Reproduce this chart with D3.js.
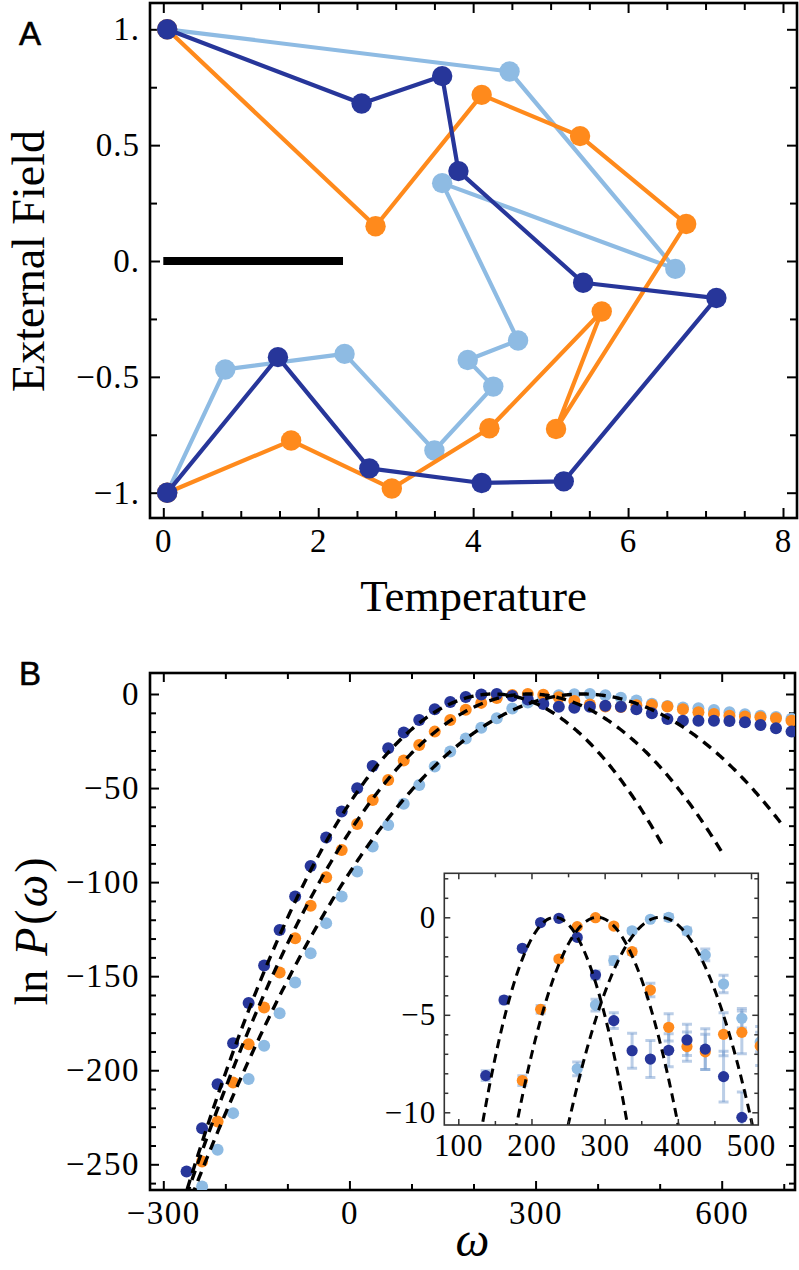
<!DOCTYPE html>
<html><head><meta charset="utf-8">
<script src="https://cdn.jsdelivr.net/npm/d3@7"></script>
<style>body{margin:0;background:#fff} svg{display:block}</style>
</head><body><svg id="c" width="799" height="1270"></svg>
<script>
// ---------- Panel A data (Temperature, External Field) ----------
const tempNavy   = [0.05, 1.48, 2.66, 4.11, 5.17, 7.14, 5.42, 3.81, 3.60, 2.56, 0.05];
const fieldNavy  = [-1.0, -0.415, -0.895, -0.958, -0.951, -0.16, -0.094, 0.388, 0.798, 0.68, 1.0];
const tempOrange = [0.05, 2.74, 4.11, 5.38, 6.75, 5.07, 5.66, 4.21, 2.95, 1.65, 0.05];
const fieldOrange= [1.0, 0.15, 0.717, 0.539, 0.16, -0.725, -0.218, -0.722, -0.982, -0.775, -1.0];
const tempLight  = [0.05, 4.47, 6.61, 3.60, 4.58, 3.93, 4.26, 3.50, 2.34, 0.80, 0.05];
const fieldLight = [1.0, 0.818, -0.034, 0.336, -0.343, -0.427, -0.542, -0.818, -0.401, -0.468, -1.0];
const barTemp = [0, 2.32];
const barField = [0, 0];
const xTicksA = [0, 2, 4, 6, 8];
const yTicksA = [-1, -0.5, 0, 0.5, 1];
const yTickLabelsA = ["\u22121.", "\u22120.5", "0.", "0.5", "1."];

// ---------- Panel B data (omega, ln P) ----------
const omega = [-262.5,-237.5,-212.5,-187.5,-162.5,-137.5,-112.5,-87.5,-62.5,-37.5,
  -12.5,12.5,37.5,62.5,87.5,112.5,137.5,162.5,187.5,212.5,
  237.5,262.5,287.5,312.5,337.5,362.5,387.5,412.5,437.5,462.5,
  487.5,512.5,537.5,562.5,587.5,612.5,637.5,662.5,687.5,712.5];
const lnPNavy = [-253.8,-230.8,-207.4,-185.6,-164.3,-144.3,-125.4,-107.7,-91.4,-76.3,
  -62.5,-50.1,-38.3,-28.9,-20.5,-13.8,-8.12,-4.24,-1.59,-0.27,
  -0.05,-1.03,-2.96,-5.30,-6.84,-7.27,-6.82,-6.29,-6.76,-8.17,
  -10.26,-13.3,-14.2,-14.2,-14.2,-14.4,-15.0,-16.5,-18.2,-20.0];
const lnPOrange = [-270,-248.5,-227.2,-206.5,-186.2,-166.7,-148.1,-129.8,-112.6,-97.4,
  -82.9,-69.1,-56.3,-45.7,-35.4,-27.1,-20.0,-13.8,-8.37,-4.72,
  -2.14,-0.48,-0.02,-0.45,-1.76,-3.73,-5.64,-6.63,-6.9,-6.0,
  -5.9,-6.6,-8.1,-9.7,-10.6,-11.5,-12.0,-12.4,-12.9,-14.2];
const lnPLight = [-283,-261.8,-242.3,-222.8,-204.7,-187.0,-169.7,-153.4,-137.8,-121.8,
  -107.7,-94.4,-81.1,-69.6,-58.4,-48.4,-38.6,-30.6,-23.6,-17.9,
  -12.9,-7.77,-4.5,-2.22,-0.69,-0.10,0.0,-0.70,-1.93,-3.42,
  -5.18,-6.4,-7.2,-7.6,-8.5,-9.7,-10.8,-11.6,-12.2,-13.2];
// error bars (inset), same length as omega
const errNavy = [0,0,0,0,0,0,0,0,0,0, 0,0,0,0,0,0,0.25,0.15,0.1,0.05,
  0.05,0.1,0.2,0.4,0.9,0.95,0.85,0.8,1.05,1.3, 1.3,1.5,0,0,0,0,0,0,0,0];
const errOrange = [0,0,0,0,0,0,0,0,0,0, 0,0,0,0,0,0,0,0,0.25,0.2,
  0.1,0.05,0.05,0.1,0.15,0.35,0.7,0.75,0.9,1.1, 1.1,1.0,0,0,0,0,0,0,0,0];
const errLight = [0,0,0,0,0,0,0,0,0,0, 0,0,0,0,0,0,0,0,0,0,
  0,0.35,0.3,0.2,0.1,0.05,0.15,0.15,0.3,0.45, 0.5,0.5,0,0,0,0,0,0,0,0];
// Gaussian fits: ln P = -(w - mu)^2 / (2 sigma^2)
const fitMu = [232, 290, 376];
const fitTwoSigmaSq = [925, 1145, 1487];
const fitEnd = [505, 600, 700];
const xTicksB = [-300, 0, 300, 600];
const yTicksB = [-250, -200, -150, -100, -50, 0];
const xTicksInset = [100, 200, 300, 400, 500];
const yTicksInset = [-10, -5, 0];

const NAVY = "#27369a", ORANGE = "#ff8a1c", LIGHT = "#8ebbe3";
const serif = "'Liberation Serif','DejaVu Serif',serif";
const sans = "'Liberation Sans',Arial,sans-serif";
const minus = s => String(s).replace("-", "\u2212");

const svg = d3.select("#c");

function frameAxes(g, x, y, f, o) {
  const styleAxis = a => {
    a.attr("font-family", serif);
    a.select(".domain").remove();
    a.selectAll(".tick line").attr("stroke", o.stroke).attr("stroke-width", o.tickW);
    a.selectAll("text").attr("font-family", serif).attr("font-size", o.font)
      .attr("letter-spacing", o.ls || 0).attr("fill", "#000");
  };
  const put = (gen, tx, ty) => g.append("g").attr("transform", `translate(${tx},${ty})`).call(gen).call(styleAxis);
  put(d3.axisBottom(x).tickValues(o.xMaj).tickSize(-o.majLen).tickPadding(o.xPad).tickFormat(o.xFmt), 0, f.b);
  put(d3.axisBottom(x).tickValues(o.xMin).tickSize(-o.minLen).tickFormat(""), 0, f.b);
  put(d3.axisTop(x).tickValues(o.xMaj).tickSize(-o.majLen).tickFormat(""), 0, f.t);
  put(d3.axisTop(x).tickValues(o.xMin).tickSize(-o.minLen).tickFormat(""), 0, f.t);
  put(d3.axisLeft(y).tickValues(o.yMaj).tickSize(-o.majLen).tickPadding(o.yPad).tickFormat(o.yFmt), f.l, 0);
  put(d3.axisLeft(y).tickValues(o.yMin).tickSize(-o.minLen).tickFormat(""), f.l, 0);
  put(d3.axisRight(y).tickValues(o.yMaj).tickSize(-o.majLen).tickFormat(""), f.r, 0);
  put(d3.axisRight(y).tickValues(o.yMin).tickSize(-o.minLen).tickFormat(""), f.r, 0);
  g.append("rect").attr("x", f.l).attr("y", f.t).attr("width", f.r - f.l).attr("height", f.b - f.t)
    .attr("fill", "none").attr("stroke", o.stroke).attr("stroke-width", o.frameW);
}

// ================= Panel A =================
const fA = {l: 150, r: 797, t: 3, b: 518};
const xA = d3.scaleLinear().domain([0, 8]).range([163.3, 783]);
const yA = d3.scaleLinear().domain([-1, 1]).range([492.7, 29.3]);
const gA = svg.append("g");

frameAxes(gA, xA, yA, fA, {
  xMaj: xTicksA, xMin: d3.range(0.5, 8, 0.5).filter(v => v % 2 !== 0),
  yMaj: yTicksA, yMin: [-0.75, -0.25, 0.25, 0.75],
  xFmt: d3.format("d"), yFmt: (d, i) => yTickLabelsA[i],
  majLen: 10, minLen: 7, font: 33, ls: 1, xPad: 11, yPad: 10, stroke: "#000", tickW: 2, frameW: 2.6
});

gA.append("line").attr("x1", xA(barTemp[0])).attr("x2", xA(barTemp[1]))
  .attr("y1", yA(barField[0])).attr("y2", yA(barField[1]))
  .attr("stroke", "#000").attr("stroke-width", 8);

const seriesA = [
  {t: tempLight, f: fieldLight, c: LIGHT},
  {t: tempOrange, f: fieldOrange, c: ORANGE},
  {t: tempNavy, f: fieldNavy, c: NAVY}
];
const lineA = d3.line().x(d => xA(d[0])).y(d => yA(d[1]));
seriesA.forEach(s => {
  const pts = s.t.map((t, i) => [t, s.f[i]]);
  gA.append("path").attr("d", lineA(pts)).attr("fill", "none").attr("stroke", s.c)
    .attr("stroke-width", 4.2).attr("stroke-linejoin", "round");
  gA.selectAll(null).data(pts).join("circle").attr("cx", d => xA(d[0])).attr("cy", d => yA(d[1]))
    .attr("r", 10.2).attr("fill", s.c);
});

gA.append("text").attr("x", (fA.l + fA.r) / 2).attr("y", 611).attr("text-anchor", "middle")
  .attr("font-family", serif).attr("font-size", 45).text("Temperature");
gA.append("text").attr("transform", `translate(44,${yA(0)}) rotate(-90)`).attr("text-anchor", "middle")
  .attr("font-family", serif).attr("font-size", 46).text("External Field");
gA.append("text").attr("x", 19).attr("y", 45).attr("font-family", sans).attr("font-size", 33)
  .attr("stroke", "#000").attr("stroke-width", 0.6).text("A");

// ================= Panel B =================
const fB = {l: 150, r: 795, t: 673, b: 1190};
const xB = d3.scaleLinear().domain([-300, 600]).range([163.3, 721.7]);
const yB = d3.scaleLinear().domain([-250, 0]).range([1164.3, 694]);
const gB = svg.append("g");

svg.append("defs").html(
  `<clipPath id="clipB"><rect x="${fB.l}" y="${fB.t}" width="${fB.r - fB.l}" height="${fB.b - fB.t}"/></clipPath>`);

frameAxes(gB, xB, yB, fB, {
  xMaj: xTicksB, xMin: [-200, -100, 100, 200, 400, 500, 700],
  yMaj: yTicksB, yMin: d3.range(-260, 10, 10).filter(v => v % 50 !== 0),
  xFmt: d => minus(d), yFmt: d => minus(d),
  majLen: 9, minLen: 6, font: 33, ls: 1.5, xPad: 11, yPad: 10, stroke: "#000", tickW: 2, frameW: 2.6
});

const plotB = gB.append("g").attr("clip-path", "url(#clipB)");
const seriesB = [
  {v: lnPLight, e: errLight, c: LIGHT, fit: 2},
  {v: lnPOrange, e: errOrange, c: ORANGE, fit: 1},
  {v: lnPNavy, e: errNavy, c: NAVY, fit: 0}
];
function fitPts(k) {
  return d3.range(-330, fitEnd[k] + 0.01, 2).map(w => [w, -((w - fitMu[k]) ** 2) / fitTwoSigmaSq[k]]);
}
const lineB = d3.line().x(d => xB(d[0])).y(d => yB(d[1]));
seriesB.forEach(s => {
  plotB.selectAll(null).data(omega.map((w, i) => [w, s.v[i]])).join("circle")
    .attr("cx", d => xB(d[0])).attr("cy", d => yB(d[1])).attr("r", 6).attr("fill", s.c);
});
[0, 1, 2].forEach(k => {
  plotB.append("path").attr("d", lineB(fitPts(k))).attr("fill", "none").attr("stroke", "#000")
    .attr("stroke-width", 3.4).attr("stroke-dasharray", "10,7");
});

// ---- inset ----
const fI = {l: 444.3, r: 758.3, t: 873.3, b: 1125};
const xI = d3.scaleLinear().domain([100, 500]).range([458.3, 751]);
const yI = d3.scaleLinear().domain([-10, 0]).range([1112.3, 917.3]);
const gI = svg.append("g");
gI.append("rect").attr("x", fI.l).attr("y", fI.t).attr("width", fI.r - fI.l).attr("height", fI.b - fI.t).attr("fill", "#fff");
svg.select("defs").append("clipPath").attr("id", "clipI").append("rect")
  .attr("x", fI.l).attr("y", fI.t).attr("width", fI.r - fI.l).attr("height", fI.b - fI.t);
const plotI = gI.append("g").attr("clip-path", "url(#clipI)");
const lineI = d3.line().x(d => xI(d[0])).y(d => yI(d[1]));
seriesB.forEach(s => {
  const pts = omega.map((w, i) => [w, s.v[i], s.e[i]]).filter(d => d[2] > 0);
  const eb = plotI.append("g").attr("stroke", "rgba(120,158,208,0.5)").attr("stroke-width", 3);
  pts.forEach(d => {
    const x = xI(d[0]), y1 = yI(d[1] + d[2]), y2 = yI(d[1] - d[2]);
    eb.append("line").attr("x1", x).attr("x2", x).attr("y1", y1).attr("y2", y2);
    eb.append("line").attr("x1", x - 5).attr("x2", x + 5).attr("y1", y1).attr("y2", y1);
    eb.append("line").attr("x1", x - 5).attr("x2", x + 5).attr("y1", y2).attr("y2", y2);
  });
});
seriesB.forEach(s => {
  plotI.selectAll(null).data(omega.map((w, i) => [w, s.v[i]])).join("circle")
    .attr("cx", d => xI(d[0])).attr("cy", d => yI(d[1])).attr("r", 5.6).attr("fill", s.c);
});
[0, 1, 2].forEach(k => {
  plotI.append("path").attr("d", lineI(fitPts(k))).attr("fill", "none").attr("stroke", "#000")
    .attr("stroke-width", 3).attr("stroke-dasharray", "9,6");
});
frameAxes(gI, xI, yI, fI, {
  xMaj: xTicksInset, xMin: [150, 250, 350, 450],
  yMaj: yTicksInset, yMin: d3.range(-10, 3, 1).filter(v => v % 5 !== 0),
  xFmt: d3.format("d"), yFmt: d => minus(d),
  majLen: 6, minLen: 4, font: 31, ls: 1, xPad: 9, yPad: 8, stroke: "#333", tickW: 1.5, frameW: 1.6
});

// labels B
const yl = gB.append("text").attr("transform", `translate(47,${(fB.t + fB.b) / 2}) rotate(-90)`)
  .attr("text-anchor", "middle").attr("font-family", serif).attr("font-size", 46);
yl.append("tspan").text("ln");
yl.append("tspan").attr("dx", 14).attr("font-style", "italic").text("P");
yl.append("tspan").attr("dx", 3).text("(");
yl.append("tspan").attr("dx", 2).attr("font-style", "italic").text("\u03c9");
yl.append("tspan").attr("dx", 2).text(")");
gB.append("text").attr("x", (fB.l + fB.r) / 2).attr("y", 1256).attr("text-anchor", "middle")
  .attr("font-family", serif).attr("font-style", "italic").attr("font-size", 48).text("\u03c9");
gB.append("text").attr("x", 19).attr("y", 685).attr("font-family", sans).attr("font-size", 33)
  .attr("stroke", "#000").attr("stroke-width", 0.6).text("B");
</script></body></html>
